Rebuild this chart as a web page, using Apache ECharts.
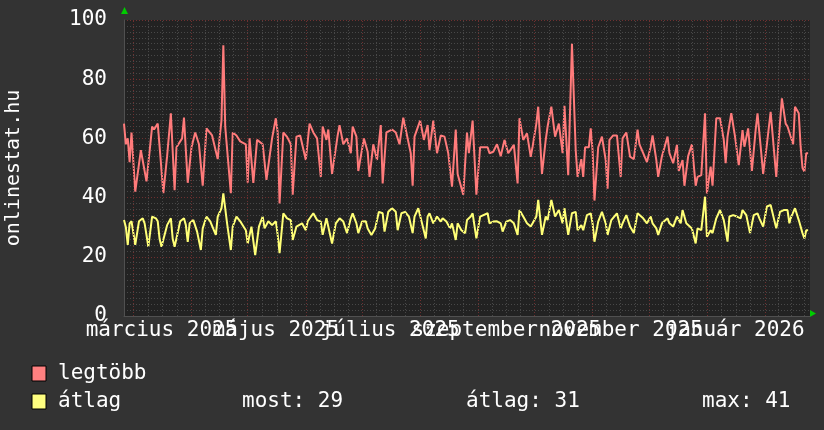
<!DOCTYPE html>
<html>
<head>
<meta charset="utf-8">
<title>onlinestat.hu</title>
<script src="https://cdn.jsdelivr.net/npm/echarts@6/dist/echarts.min.js"></script>
<style>
  html, body { margin: 0; padding: 0; background: #333333; }
  #chart { width: 824px; height: 430px; }
</style>
</head>
<body>
<div id="chart"></div>
<script>
// days counted from 2025-02-24 (day 0) to 2026-02-25 (day 366)
const napokSzama = 366;
const honapKezdet = [5, 36, 66, 97, 127, 158, 189, 219, 250, 280, 311, 342, 370];
const cimkeNapok = [20, 81, 142, 204, 265, 326];
const cimkek = ["március 2025", "május 2025", "július 2025", "szeptember 2025", "november 2025", "január 2026"];
const yCimkek = [0, 20, 40, 60, 80, 100];

// [day, value]
const legtobb = [
  [0, 65], [1, 58], [2, 60], [3, 52], [4, 62], [6, 42], [9, 56], [12, 45.5], [15, 64], [16, 63],
  [18, 65], [21, 41.5], [23, 54], [25, 68.5], [27, 42.5], [28, 57], [31, 60], [32, 67], [34, 45], [36, 57],
  [38, 62], [40, 58], [42, 44], [44, 63.4], [47, 61], [50, 53], [51, 60], [52, 66], [53, 91.5], [54, 64],
  [57, 41.5], [58, 62], [60, 61], [62, 59], [65, 58], [66, 45], [67, 60], [69, 45], [71, 59.5], [74, 58],
  [76, 46], [79, 60], [81, 66.8], [82, 62], [83, 38], [85, 62], [87, 60.5], [89, 58], [90, 41], [92, 60.6],
  [94, 61], [97, 52.7], [99, 65], [101, 62], [103, 60], [105, 47], [106, 64], [108, 59.5], [109, 63], [111, 48],
  [114, 61], [115, 64.5], [117, 58], [119, 60], [121, 55], [122, 64], [124, 60.6], [125, 49], [128, 60], [130, 55.5],
  [131, 47], [133, 58], [135, 52.7], [137, 64.5], [138, 44.8], [140, 62], [143, 63], [145, 62], [147, 58], [149, 67],
  [151, 61], [153, 55], [154, 44], [155, 60.6], [158, 66], [160, 59.5], [162, 64.5], [163, 56], [165, 66], [167, 55],
  [169, 61], [171, 60.6], [173, 55], [175, 43.7], [177, 63], [178, 48], [181, 41], [183, 62], [184, 55], [186, 66],
  [188, 41], [190, 57], [194, 57], [195, 55], [197, 55.5], [199, 58], [201, 54], [203, 59.5], [205, 55], [208, 57.8],
  [210, 44.8], [211, 66.8], [213, 59.5], [215, 61.7], [217, 53.8], [218, 57.2], [220, 65], [221, 70.7], [223, 48], [225, 59.5],
  [226, 64], [228, 70.7], [230, 60.6], [232, 65], [234, 55], [235, 71], [237, 47.6], [239, 92], [241, 56], [242, 47],
  [244, 53], [245, 47], [246, 57], [248, 57], [249, 63.4], [250, 56], [251, 39], [253, 57], [255, 60.6], [257, 52.7],
  [258, 43], [259, 59.5], [261, 61], [263, 61], [265, 47], [266, 60], [268, 62], [270, 53.8], [272, 53], [274, 63],
  [275, 58], [277, 55], [279, 52], [281, 57.2], [282, 61], [284, 52.7], [285, 47], [287, 54], [290, 60.6], [291, 55],
  [293, 51.6], [295, 57.8], [296, 49], [298, 52.7], [299, 44], [301, 54], [303, 58], [305, 44], [306, 47], [308, 47.6],
  [310, 68.5], [311, 41.4], [313, 50.5], [314, 44], [316, 66.8], [318, 66.8], [320, 59.5], [321, 51.6], [322, 60.6], [324, 68.5],
  [326, 60.6], [328, 51], [330, 62.8], [331, 57.2], [333, 63.4], [335, 49], [337, 62.8], [338, 68.5], [340, 55], [341, 48],
  [343, 58], [345, 69], [346, 68.5], [348, 47], [349, 57.2], [351, 73.5], [353, 65], [354, 64], [357, 58], [358, 70.7],
  [360, 68.5], [361, 57.2], [362, 50], [363, 48.8], [364, 55], [365, 55]
];

const atlag = [
  [0, 32.4], [1, 30], [2, 24], [3, 31.3], [4, 32], [6, 24], [8, 32], [10, 33], [11, 31.3], [13, 23.4],
  [15, 33.6], [17, 33], [18, 32], [19, 26], [20, 23.4], [23, 30.7], [25, 33], [26, 26], [27, 23.4], [30, 32],
  [32, 33], [33, 30.7], [34, 25], [35, 31.3], [37, 32.4], [39, 28.5], [41, 22.3], [42, 29.6], [44, 33.6], [46, 32],
  [49, 27.4], [50, 33.6], [52, 36.4], [53, 41.4], [55, 31.3], [57, 22.3], [58, 30.2], [60, 33.6], [62, 32], [65, 29],
  [66, 24.5], [68, 30.2], [70, 20.6], [72, 30.2], [74, 33.6], [75, 29.6], [77, 32], [79, 30.7], [81, 32], [82, 27.4],
  [83, 21.2], [85, 34.7], [87, 33], [89, 32.4], [90, 25.7], [92, 30.2], [95, 31.3], [97, 29], [98, 32], [101, 34.7],
  [103, 32.4], [105, 31.9], [106, 27.4], [108, 33], [111, 24.5], [113, 31.3], [115, 33], [117, 31.9], [119, 28], [121, 33],
  [122, 34.7], [124, 31.3], [125, 28], [127, 31.9], [129, 32], [130, 29.6], [132, 27.4], [134, 29.6], [136, 35.2], [138, 34.7],
  [139, 28.5], [141, 35.2], [143, 36.4], [145, 35.2], [146, 29], [148, 34.7], [150, 35.2], [152, 33.6], [154, 28], [155, 33.6],
  [157, 36.4], [159, 31.3], [161, 26.2], [162, 33.6], [163, 34.7], [165, 31.3], [167, 33.6], [169, 31.9], [170, 33], [172, 31.9],
  [174, 29.6], [175, 31.3], [177, 25.7], [178, 31.3], [180, 29], [182, 28], [183, 32.4], [185, 33.6], [186, 34.7], [188, 26.2],
  [190, 33.6], [191, 33], [194, 34.7], [195, 31.3], [197, 31.9], [199, 32], [201, 31.3], [202, 28.5], [204, 31.9], [206, 32.4],
  [208, 31.3], [210, 27.4], [211, 35.8], [213, 33.6], [215, 31.3], [217, 30.2], [218, 31.3], [220, 33.6], [221, 39.2], [223, 27.4],
  [225, 33.6], [226, 32.4], [228, 39.2], [230, 33.6], [232, 35.8], [234, 31.3], [235, 36.4], [237, 27.4], [239, 34.7], [241, 35.2],
  [242, 29], [244, 30.7], [245, 29], [247, 34.1], [249, 34.7], [250, 31.3], [251, 25.1], [253, 31.9], [255, 35.2], [257, 31.3],
  [258, 27.4], [260, 32.4], [263, 34.7], [265, 29.6], [266, 31.3], [268, 34.1], [270, 30.2], [272, 28], [274, 34.7], [275, 34.1],
  [277, 33], [279, 31.3], [281, 33.6], [282, 31.3], [284, 29.6], [285, 27.4], [287, 31.3], [290, 33], [291, 31.3], [293, 30.2],
  [295, 33.6], [297, 31.3], [298, 35.8], [300, 31.3], [303, 29.6], [305, 24.5], [306, 29.6], [308, 29], [310, 40.3], [311, 26.8],
  [313, 29], [314, 28], [316, 33], [318, 35.8], [320, 32.4], [322, 25.1], [323, 33.6], [325, 34.1], [327, 33.6], [329, 33],
  [330, 35.8], [332, 34.1], [334, 28], [336, 34.1], [338, 34.7], [339, 33], [341, 30.2], [343, 37], [345, 37.5], [346, 37],
  [348, 29.6], [350, 35.2], [352, 35.8], [354, 35.8], [355, 31.3], [356, 33.6], [358, 36.4], [360, 32.4], [362, 28], [363, 26.2],
  [364, 29], [365, 29]
];

const atlagStat = [["most", 29], ["átlag", 31], ["max", 41]];

const font = "DejaVu Sans Mono";
const piros = "#ff7b7b";
const sarga = "#ffff77";
const racsSzurke = "#484848";
const racsPiros = "#6e3030";

// minor vertical grid: every quarter of a month
const negyedNapok = [];
for (let i = 0; i < honapKezdet.length - 1; i++) {
  const a = honapKezdet[i], b = honapKezdet[i + 1];
  for (let q = 1; q < 4; q++) {
    const d = a + (q * (b - a)) / 4;
    if (d < napokSzama) negyedNapok.push(d);
  }
}
const honapVonalak = honapKezdet.filter((d) => d < napokSzama);

const chart = echarts.init(document.getElementById("chart"), null, { renderer: "canvas" });

const f21 = "21px '" + font + "'";
const legendGraphic = [
  { type: "rect", shape: { x: 32, y: 366, width: 14, height: 15 }, style: { fill: "#ff8080", stroke: "#000", lineWidth: 1 } },
  { type: "rect", shape: { x: 32, y: 394, width: 14, height: 15 }, style: { fill: "#ffff80", stroke: "#000", lineWidth: 1 } },
  { type: "text", x: 58, y: 374, style: { text: "legtöbb", fill: "#fff", font: f21, verticalAlign: "middle" } },
  { type: "text", x: 58, y: 402, style: { text: "átlag", fill: "#fff", font: f21, verticalAlign: "middle" } },
  // little green arrows at the axis ends
  { type: "polygon", shape: { points: [[121, 14], [128, 14], [124.5, 7]] }, style: { fill: "#00cc00" } },
  { type: "polygon", shape: { points: [[810, 310], [810, 317], [816, 313.5]] }, style: { fill: "#00cc00" } }
];
const statX = [242, 466, 702];
atlagStat.forEach((s, i) => {
  legendGraphic.push({
    type: "text", x: statX[i], y: 402,
    style: { text: s[0] + ": " + s[1], fill: "#fff", font: f21, verticalAlign: "middle" }
  });
});

const racsVonal = (napok, szin) => ({
  type: "line",
  data: [],
  yAxisIndex: 1,
  silent: true,
  z: 1,
  markLine: {
    silent: true,
    animation: false,
    symbol: ["none", "none"],
    label: { show: false },
    lineStyle: { color: szin, type: [1, 2], width: 1 },
    data: napok.map((d) => ({ xAxis: d }))
  }
});

chart.setOption({
  backgroundColor: "#333333",
  animation: false,
  grid: {
    left: 124, right: 14, top: 20, bottom: 114,
    outerBoundsMode: "none",
    containLabel: false,
    show: true, backgroundColor: "#222222", borderWidth: 0
  },
  xAxis: [
    {
      type: "value",
      min: 0,
      max: napokSzama,
      axisLine: { show: true, lineStyle: { color: "#505050" } },
      axisTick: { show: false },
      splitLine: { show: false },
      axisLabel: { show: false }
    }
  ],
  yAxis: [
    {
      type: "value",
      min: 0, max: 100, interval: 2,
      axisLine: { show: false },
      axisTick: { show: false },
      axisLabel: { show: false },
      splitLine: { show: true, lineStyle: { color: racsSzurke, type: [1, 2], width: 1 } }
    },
    {
      type: "value",
      position: "left",
      min: 0, max: 100, interval: 20,
      name: "onlinestat.hu",
      nameLocation: "middle",
      nameRotate: 90,
      nameGap: 100,
      nameTextStyle: { color: "#ffffff", fontFamily: font, fontSize: 20 },
      axisLine: { show: true, lineStyle: { color: "#505050" } },
      axisTick: { show: false },
      axisLabel: {
        customValues: yCimkek,
        color: "#ffffff",
        fontFamily: font,
        fontSize: 21,
        margin: 17,
        showMinLabel: true,
        showMaxLabel: true
      },
      splitLine: { show: true, lineStyle: { color: racsPiros, type: [1, 2], width: 1 } }
    }
  ],
  graphic: legendGraphic,
  series: [
    racsVonal(negyedNapok, racsSzurke),
    racsVonal(honapVonalak, racsPiros),
    {
      name: "legtöbb",
      type: "line",
      yAxisIndex: 1,
      data: legtobb,
      showSymbol: false,
      z: 3,
      lineStyle: { color: piros, width: 2 }
    },
    {
      name: "átlag",
      type: "line",
      yAxisIndex: 1,
      data: atlag,
      showSymbol: false,
      z: 4,
      lineStyle: { color: sarga, width: 2 }
    }
  ]
});

// month labels overlap each other in the original, so place them through the x scale ourselves
const aljaY = chart.convertToPixel({ yAxisIndex: 1 }, 0);
const cimkeGraphic = cimkek.map((c, i) => ({
  type: "text",
  x: chart.convertToPixel({ xAxisIndex: 0 }, cimkeNapok[i]),
  y: aljaY + 4,
  style: { text: c, fill: "#fff", font: f21, align: "center", verticalAlign: "top" }
}));
chart.setOption({ graphic: legendGraphic.concat(cimkeGraphic) });
</script>
</body>
</html>
